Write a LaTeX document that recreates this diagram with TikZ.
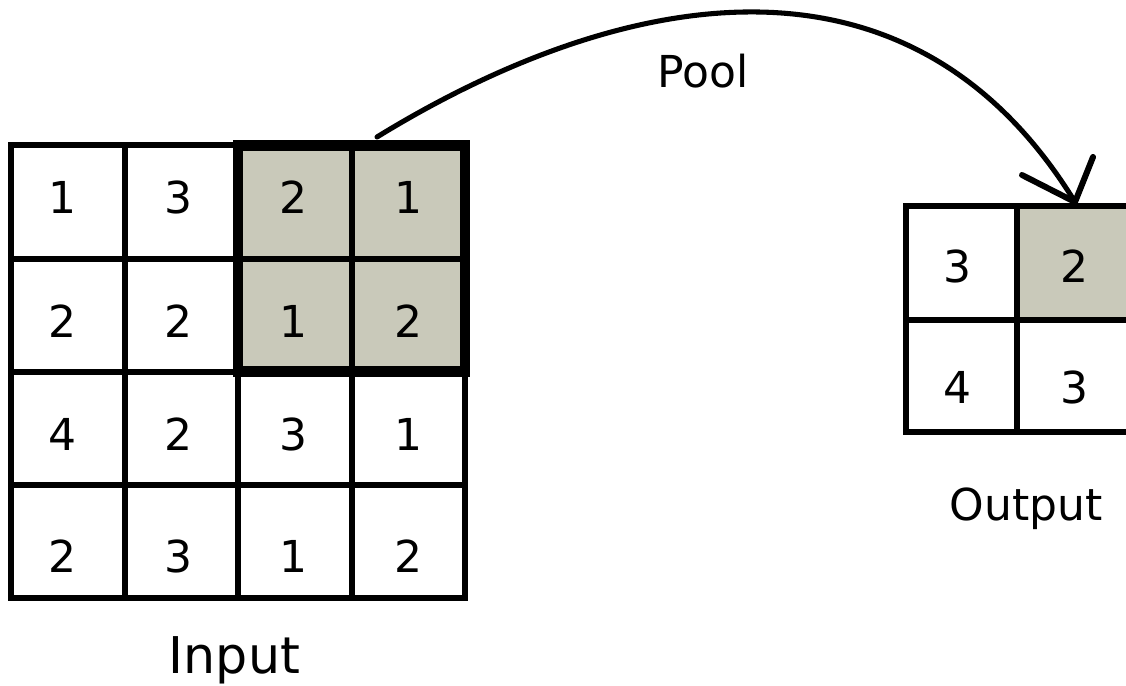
\documentclass[tikz,border=0pt]{standalone}
\usepackage{fontspec}
\setmainfont{DejaVu Sans}
\definecolor{poolgray}{RGB}{201,201,186}
\tikzset{
  x=0.75pt, y=-0.75pt,
  grid/.style={line width=4.5pt, line cap=rect},
  window/.style={line width=7.8pt, line join=miter},
  num/.style={anchor=base, inner sep=0pt, font=\fontsize{33}{40}\selectfont},
  caption/.style={anchor=base, inner sep=0pt, font=\fontsize{33}{40}\selectfont},
  bigcaption/.style={anchor=base, inner sep=0pt, font=\fontsize{38}{46}\selectfont},
  link/.style={line width=3.8pt, line cap=round},
  barb/.style={line width=4.5pt, line cap=round}
}
\begin{document}
\begin{tikzpicture}
\clip (0,0) rectangle (1126,685);
\fill[white] (0,0) rectangle (1126,685);

% ---- input feature map (4x4) ----
\fill[poolgray] (238,145) rectangle (465,372);
\draw[grid] (11,145) rectangle (465,598);
\foreach \gx in {125,238,352} \draw[grid] (\gx,145) -- (\gx,598);
\foreach \gy in {258.5,372,485} \draw[grid] (11,\gy) -- (465,\gy);
% pooling window
\draw[window] (238,145.5) rectangle (465,371.5);

\foreach \r/\y/\a/\b/\c/\d in {1/213/1/3/2/1, 2/337/2/2/1/2, 3/450/4/2/3/1, 4/572/2/3/1/2}{
  \node[num] (in-\r-1) at (62,\y) {\a};
  \node[num] (in-\r-2) at (178,\y) {\b};
  \node[num] (in-\r-3) at (293,\y) {\c};
  \node[num] (in-\r-4) at (408,\y) {\d};
}
\node[bigcaption] (inputlabel) at (234.5,673) {Input};

% ---- output map (2x2) ----
\fill[poolgray] (1017,206) rectangle (1130,320);
\draw[grid] (906,206) rectangle (1130,432);
\draw[grid] (1017,206) -- (1017,432);
\draw[grid] (906,320) -- (1130,320);

\node[num] (out-1-1) at (957,282) {3};
\node[num] (out-1-2) at (1074,282) {2};
\node[num] (out-2-1) at (957,403) {4};
\node[num] (out-2-2) at (1074,403) {3};
\node[caption] (outputlabel) at (1026,520) {Output};

% ---- pooling arrow ----
\coordinate (src) at (377,137);
\coordinate (dst) at (1075,202);
\coordinate (barbL) at (1022,175);
\coordinate (barbR) at (1093,157);
\draw[link] (src) .. controls (600,0) and (901,-81) .. (dst);
\draw[barb] (barbL) -- (dst) -- (barbR);
\node[caption] (poollabel) at (703.5,87) {Pool};
\end{tikzpicture}
\end{document}
